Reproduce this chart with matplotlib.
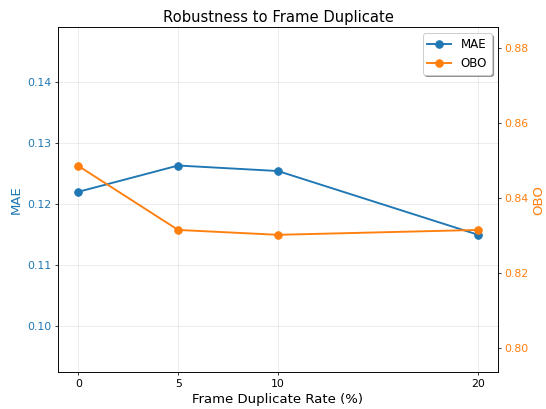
import matplotlib
matplotlib.use('Agg')
import matplotlib.pyplot as plt

# Frame duplicate rates and metrics
rates = [0, 5, 10, 20]
mae = [0.1220, 0.1263, 0.1254, 0.1150]
obo = [0.8486, 0.8315, 0.8302, 0.8315]

c_mae = '#1f77b4'
c_obo = '#ff7f0e'

fig = plt.figure(figsize=(8, 5.993), dpi=68.25)
ax1 = fig.add_axes([0.1068, 0.0897, 0.8047, 0.8436])
ax2 = ax1.twinx()

l1, = ax1.plot(rates, mae, marker='o', color=c_mae, lw=2, ms=8, label='MAE')
l2, = ax2.plot(rates, obo, marker='o', color=c_obo, lw=2, ms=8, label='OBO')

ax1.set_xlim(-1, 21)
ax1.set_ylim(0.0925, 0.1489)
ax2.set_ylim(0.7935, 0.8856)
ax1.set_xticks(rates)
ax1.set_yticks([0.10, 0.11, 0.12, 0.13, 0.14])
ax2.set_yticks([0.80, 0.82, 0.84, 0.86, 0.88])

ax1.set_title('Robustness to Frame Duplicate', fontsize=15.5)
ax1.set_xlabel('Frame Duplicate Rate (%)', fontsize=14)
ax1.set_ylabel('MAE', color=c_mae, fontsize=14, labelpad=5)
ax2.set_ylabel('OBO', color=c_obo, fontsize=14)
ax1.tick_params(axis='y', labelcolor=c_mae, labelsize=11.5)
ax2.tick_params(axis='y', labelcolor=c_obo, labelsize=11.5)
ax1.tick_params(axis='x', labelsize=11.5)
ax1.grid(True, alpha=0.3)

ax2.legend([l1, l2], ['MAE', 'OBO'], loc='upper right', shadow=True, fontsize=12.5)

fig.savefig('out.png', dpi=68.25)
